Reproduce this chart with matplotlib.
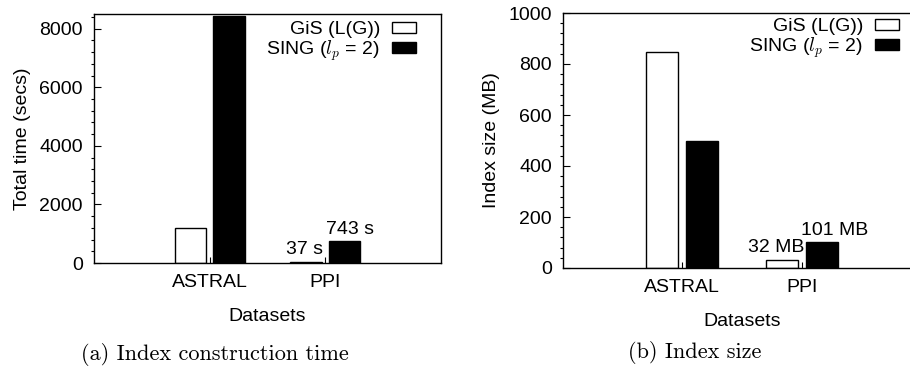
import matplotlib
matplotlib.use("Agg")
import matplotlib.pyplot as plt
import numpy as np
from matplotlib.ticker import MultipleLocator

plt.rcParams["font.family"] = ["Liberation Sans", "DejaVu Sans"]
plt.rcParams["mathtext.fontset"] = "cm"

datasets = ["ASTRAL", "PPI"]
series = ["GiS (L(G))", r"SING ($l_p$ = 2)"]
time_gis = [1197, 37]
time_sing = [8445, 743]
size_gis = [848, 32]
size_sing = [497, 101]
time_notes = ["37 s", "743 s"]
size_notes = ["32 MB", "101 MB"]

FS = 14
W = 0.27
OFF = 0.168

fig = plt.figure(figsize=(9.1, 3.67), dpi=100)
ax1 = fig.add_axes([94 / 910, 1 - 263 / 367, 347 / 910, 249 / 367])
ax2 = fig.add_axes([563 / 910, 1 - 268 / 367, 358 / 910, 255 / 367])


def draw_panel(ax, gis, sing, ymax, major, minor, ylabel, notes, note_dx, legend_x, legend_y):
    x = np.arange(1, len(datasets) + 1)
    ax.bar(x - OFF, gis, W, color="white", edgecolor="black", linewidth=1.0, label=series[0])
    ax.bar(x + OFF, sing, W, color="black", edgecolor="black", linewidth=1.0, label=series[1])
    ax.set_xlim(0, 3)
    ax.set_ylim(0, ymax)
    ax.set_xticks(x)
    ax.set_xticklabels(datasets)
    ax.yaxis.set_major_locator(MultipleLocator(major))
    ax.yaxis.set_minor_locator(MultipleLocator(minor))
    ax.tick_params(axis="both", direction="in", labelsize=FS, width=0.8)
    ax.tick_params(axis="y", which="major", length=5, pad=8)
    ax.tick_params(axis="y", which="minor", length=2.5, width=0.8)
    ax.tick_params(axis="x", which="major", length=4, pad=8)
    for sp in ax.spines.values():
        sp.set_linewidth(1.0)
    ax.set_ylabel(ylabel, fontsize=FS, labelpad=6)
    ax.set_xlabel("Datasets", fontsize=FS, labelpad=12)

    # value notes on the PPI bars
    ax.annotate(notes[0], (x[1] - OFF, gis[1]), xytext=(note_dx[0], 3),
                textcoords="offset points", ha="center", va="bottom", fontsize=FS)
    ax.annotate(notes[1], (x[1] + OFF, sing[1]), xytext=(note_dx[1], 2),
                textcoords="offset points", ha="center", va="bottom", fontsize=FS)

    leg = ax.legend(loc="upper right", bbox_to_anchor=(legend_x, legend_y),
                    frameon=False, markerfirst=False, fontsize=FS,
                    borderaxespad=0, borderpad=0, handlelength=1.25,
                    handleheight=0.5, handletextpad=0.6, labelspacing=0.0)
    return leg


draw_panel(ax1, time_gis, time_sing, 8500, 2000, 400, "Total time (secs)",
           time_notes, (-1, 4), 0.928, 0.97)
draw_panel(ax2, size_gis, size_sing, 1000, 200, 40, "Index size (MB)",
           size_notes, (-4, 9), 0.939, 0.98)

fig.text(215 / 910, 1 - 354 / 367, "(a) Index construction time", family="cmr10",
         fontsize=16, ha="center", va="center")
fig.text(695 / 910, 1 - 353 / 367, "(b) Index size", family="cmr10",
         fontsize=16, ha="center", va="center")

fig.savefig("out.png", dpi=100)
